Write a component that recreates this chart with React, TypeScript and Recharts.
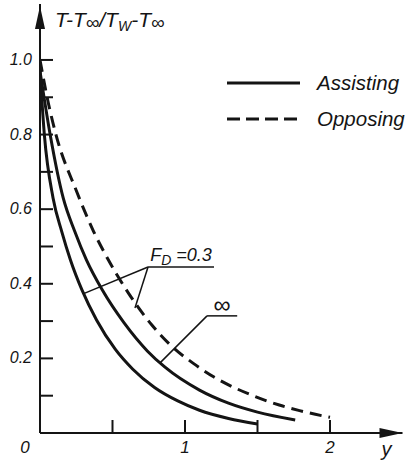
import { LineChart, Line, XAxis, YAxis, ReferenceLine, ReferenceDot, Legend } from "recharts";

const FONT = "'Liberation Sans', Arial, sans-serif";
const INK = "#141414";

// distance y and temperature ratio
const Y_ASSIST_03 = [0, 0.03, 0.09, 0.15, 0.21, 0.29, 0.39, 0.52, 0.64, 0.79, 0.95, 1.1, 1.3, 1.5];
const T_ASSIST_03 = [0.97, 0.8, 0.63, 0.54, 0.464, 0.383, 0.303, 0.224, 0.171, 0.122, 0.086, 0.061, 0.039, 0.024];

const Y_ASSIST_INF = [0, 0.07, 0.16, 0.24, 0.32, 0.43, 0.58, 0.74, 0.86, 1.1, 1.3, 1.5, 1.76];
const T_ASSIST_INF = [0.97, 0.8, 0.63, 0.54, 0.464, 0.383, 0.295, 0.22, 0.177, 0.115, 0.08, 0.056, 0.035];

const Y_OPPOSE = [0, 0.06, 0.11, 0.25, 0.37, 0.47, 0.61, 0.77, 0.91, 1.06, 1.2, 1.45, 1.65, 1.79, 2.0];
const T_OPPOSE = [1.0, 0.88, 0.8, 0.65, 0.54, 0.465, 0.375, 0.29, 0.232, 0.186, 0.15, 0.103, 0.075, 0.06, 0.042];

const Y_TICKS = [0.1, 0.2, 0.3, 0.4, 0.5, 0.6, 0.7, 0.8, 0.9, 1.0];
const Y_TICK_LABELS: Record<string, string> = { "0.2": "0.2", "0.4": "0.4", "0.6": "0.6", "0.8": "0.8", "1": "1.0" };
const X_TICKS = [0, 0.5, 1, 1.5, 2];
const X_TICK_LABELS: Record<string, string> = { "0": "0", "1": "1", "2": "2" };

const LEGEND_ITEMS = [
  { label: "Assisting", dash: undefined as string | undefined },
  { label: "Opposing", dash: "13 6" },
];

const zip = (ys: number[], ts: number[]) => ys.map((y, i) => ({ y, t: ts[i] }));

function YTick({ x, y, payload }: any) {
  const label = Y_TICK_LABELS[String(payload.value)];
  return (
    <g>
      <line x1={x} x2={x + 13} y1={y} y2={y} stroke={INK} strokeWidth={2} />
      {label && (
        <text x={x - 8} y={y + 5} textAnchor="end" fontFamily={FONT} fontStyle="italic" fontSize={16} fill={INK}>
          {label}
        </text>
      )}
    </g>
  );
}

function XTick({ x, y, payload }: any) {
  const v = payload.value;
  const label = X_TICK_LABELS[String(v)];
  return (
    <g>
      {v > 0 && <line x1={x} x2={x} y1={y} y2={y - 13} stroke={INK} strokeWidth={2} />}
      {label && (
        <text x={v === 0 ? x - 15 : x} y={y + 20} textAnchor="middle" fontFamily={FONT} fontStyle="italic" fontSize={17} fill={INK}>
          {label}
        </text>
      )}
    </g>
  );
}

function LegendBox() {
  return (
    <div style={{ fontFamily: FONT, fontStyle: "italic", fontSize: 20.5, color: INK }}>
      {LEGEND_ITEMS.map((item) => (
        <div key={item.label} style={{ display: "flex", alignItems: "center", height: 36 }}>
          <svg width={74} height={6} style={{ display: "block" }}>
            <line x1={0} x2={73} y1={3} y2={3} stroke={INK} strokeWidth={3} strokeDasharray={item.dash} />
          </svg>
          <span style={{ marginLeft: 16, whiteSpace: "nowrap" }}>{item.label}</span>
        </div>
      ))}
    </div>
  );
}

export default function App() {
  return (
    <div style={{ position: "absolute", left: 0, top: 0, width: 406, height: 464, overflow: "hidden", background: "#fff" }}>
      <LineChart width={406} height={464} margin={{ top: 4, right: 3.5, bottom: 0, left: 0 }}>
        <XAxis
          type="number"
          dataKey="y"
          domain={[0, 2.5]}
          ticks={X_TICKS}
          height={31}
          tickSize={0}
          tickMargin={0}
          tickLine={false}
          axisLine={{ stroke: INK, strokeWidth: 2 }}
          tick={<XTick />}
          allowDataOverflow
        />
        <YAxis
          type="number"
          domain={[0, 1.15]}
          ticks={Y_TICKS}
          width={40}
          tickSize={0}
          tickMargin={0}
          tickLine={false}
          axisLine={{ stroke: INK, strokeWidth: 2 }}
          tick={<YTick />}
          allowDataOverflow
        />
        <Legend
          layout="horizontal"
          verticalAlign="middle"
          content={<LegendBox />}
          wrapperStyle={{ position: "absolute", left: 227, top: 65, width: 200 }}
        />
        <Line data={zip(Y_ASSIST_03, T_ASSIST_03)} dataKey="t" type="monotone" stroke={INK} strokeWidth={3} dot={false} isAnimationActive={false} />
        <Line data={zip(Y_ASSIST_INF, T_ASSIST_INF)} dataKey="t" type="monotone" stroke={INK} strokeWidth={3} dot={false} isAnimationActive={false} />
        <Line data={zip(Y_OPPOSE, T_OPPOSE)} dataKey="t" type="monotone" stroke={INK} strokeWidth={3} strokeDasharray="12 7" dot={false} isAnimationActive={false} />

        {/* F_D = 0.3 leaders */}
        <ReferenceLine segment={[{ x: 0.745, y: 0.445 }, { x: 1.2, y: 0.445 }]} stroke={INK} strokeWidth={1.5} />
        <ReferenceLine segment={[{ x: 0.745, y: 0.445 }, { x: 0.297, y: 0.373 }]} stroke={INK} strokeWidth={1.5} />
        <ReferenceLine segment={[{ x: 0.745, y: 0.445 }, { x: 0.655, y: 0.335 }]} stroke={INK} strokeWidth={1.5} />
        {/* infinity leader */}
        <ReferenceLine segment={[{ x: 1.152, y: 0.314 }, { x: 1.36, y: 0.314 }]} stroke={INK} strokeWidth={1.5} />
        <ReferenceLine segment={[{ x: 1.152, y: 0.314 }, { x: 0.828, y: 0.188 }]} stroke={INK} strokeWidth={1.5} />

        <ReferenceDot
          x={0.76}
          y={0.445}
          ifOverflow="visible"
          shape={(p: any) => (
            <text x={p.cx} y={p.cy - 6} fontFamily={FONT} fontStyle="italic" fontSize={18} fill={INK}>
              F<tspan fontSize={14} dy={4}>D</tspan>
              <tspan dy={-4}> =0.3</tspan>
            </text>
          )}
        />
        <ReferenceDot
          x={1.255}
          y={0.314}
          ifOverflow="visible"
          shape={(p: any) => (
            <text x={p.cx} y={p.cy - 3} textAnchor="middle" fontFamily={FONT} fontSize={24} fill={INK}>
              ∞
            </text>
          )}
        />
        {/* axis arrows and titles */}
        <ReferenceDot
          x={0}
          y={1.15}
          ifOverflow="visible"
          shape={(p: any) => (
            <g>
              <path d={`M${p.cx},${p.cy + 2} L${p.cx - 5},${p.cy + 25} L${p.cx + 5},${p.cy + 25} Z`} fill={INK} />
              <text x={p.cx + 15} y={p.cy + 23} fontFamily={FONT} fontStyle="italic" fontSize={21} fill={INK}>
                T-T<tspan fontSize={19} dy={2}>∞</tspan>
                <tspan dy={-2}>/T</tspan>
                <tspan fontSize={14} dy={4}>W</tspan>
                <tspan dy={-4}>-T</tspan>
                <tspan fontSize={19} dy={2}>∞</tspan>
              </text>
            </g>
          )}
        />
        <ReferenceDot
          x={2.5}
          y={0}
          ifOverflow="visible"
          shape={(p: any) => (
            <g>
              <path d={`M${p.cx},${p.cy} L${p.cx - 23},${p.cy - 5} L${p.cx - 23},${p.cy + 5} Z`} fill={INK} />
              <text x={p.cx - 16} y={p.cy + 23} textAnchor="middle" fontFamily={FONT} fontStyle="italic" fontSize={20} fill={INK}>
                y
              </text>
            </g>
          )}
        />
      </LineChart>
    </div>
  );
}
